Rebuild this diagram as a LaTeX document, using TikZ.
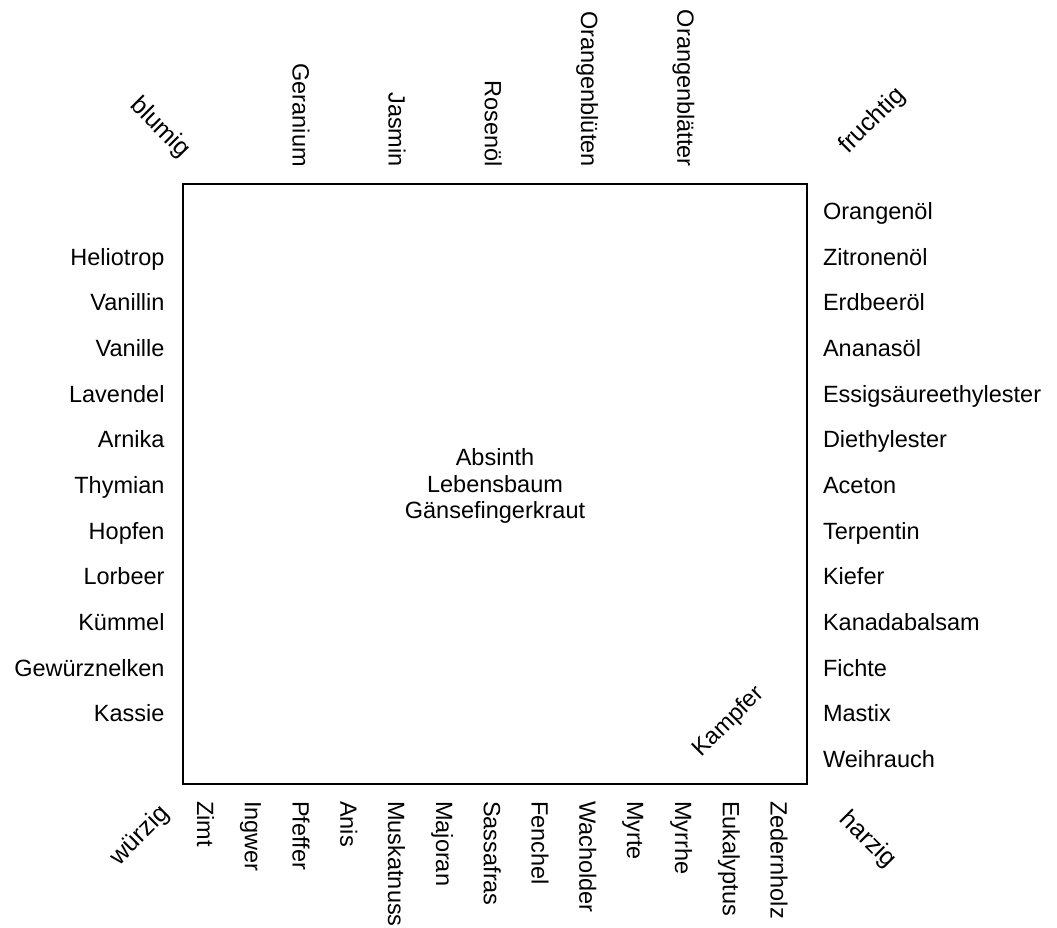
\documentclass[tikz,border=0pt]{standalone}
\usepackage{fontspec}
\setmainfont{Liberation Sans}
\begin{document}
\begin{tikzpicture}[x=1pt,y=-1pt,
  every node/.style={inner sep=0pt,outer sep=0pt,font=\fontsize{23.5}{26.8}\selectfont},
  leftlabel/.style={anchor=base east},
  rightlabel/.style={anchor=base west},
  toplabel/.style={rotate=-90,anchor=base east},
  bottomlabel/.style={rotate=-90,anchor=base west},
  corner/.style={anchor=center,font=\fontsize{25}{28}\selectfont},
  frame/.style={draw,line width=1.8pt,minimum width=624pt,minimum height=600pt}]
\useasboundingbox (0,0) rectangle (1057,928);
\fill[white] (0,0) rectangle (1057,928);

% the aroma square
\node[frame] (box) at (495,484) {};

% centre of the square (anchor = baseline of the last line)
\node[align=center,anchor=base] (mid) at (495,518.8) {Absinth\\Lebensbaum\\Gänsefingerkraut};
\node[rotate=45,anchor=center] (kampfer) at (729,722) {Kampfer};

% corner qualities
\node[corner,rotate=-45] (blumig) at (160,128) {blumig};
\node[corner,rotate=45] (fruchtig) at (872.5,121) {fruchtig};
\node[corner,rotate=45] (wuerzig) at (140,836) {würzig};
\node[corner,rotate=-45] (harzig) at (867.5,840) {harzig};

% top edge (blumig -> fruchtig)
\foreach \t [count=\i from 0] in {Geranium,Jasmin,Rosenöl,Orangenblüten,Orangenblätter}
  \node[toplabel] (top\i) at ({292.5+96.2*\i},166.7) {\t};

% bottom edge (würzig -> harzig)
\foreach \t [count=\i from 0] in {Zimt,Ingwer,Pfeffer,Anis,Muskatnuss,Majoran,Sassafras,Fenchel,Wacholder,Myrte,Myrrhe,Eukalyptus,Zedernholz}
  \node[bottomlabel] (bot\i) at ({197+47.8*\i},801.2) {\t};

% left edge (blumig -> würzig)
\foreach \t [count=\i from 1] in {Heliotrop,Vanillin,Vanille,Lavendel,Arnika,Thymian,Hopfen,Lorbeer,Kümmel,Gewürznelken,Kassie}
  \node[leftlabel] (left\i) at (164.5,{219.5+45.67*\i}) {\t};

% right edge (fruchtig -> harzig)
\foreach \t [count=\i from 0] in {Orangenöl,Zitronenöl,Erdbeeröl,Ananasöl,Essigsäureethylester,Diethylester,Aceton,Terpentin,Kiefer,Kanadabalsam,Fichte,Mastix,Weihrauch}
  \node[rightlabel] (right\i) at (823,{219.5+45.67*\i}) {\t};
\end{tikzpicture}
\end{document}
